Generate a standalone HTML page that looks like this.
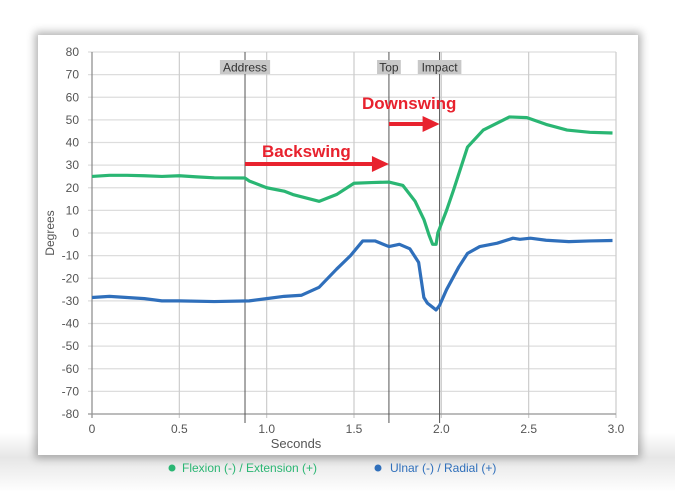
<!DOCTYPE html>
<html><head><meta charset="utf-8"><style>
body{margin:0;width:675px;height:492px;background:#fff;font-family:"Liberation Sans",sans-serif;overflow:hidden}
#bg{position:absolute;left:0;top:0;width:675px;height:492px;background:linear-gradient(#fff 0%,#fff 88%,#e6e6e6 93%,#fff 100%)}
#card{position:absolute;left:38px;top:35px;width:600px;height:420px;background:#fff;box-shadow:0 0 8px 3px rgba(0,0,0,0.3)}
svg{position:absolute;left:0;top:0}
</style></head><body>
<div id="bg"></div>
<div id="card"></div>
<svg id="chart" width="675" height="492"></svg>
<script>
const yTicks=[80,70,60,50,40,30,20,10,0,-10,-20,-30,-40,-50,-60,-70,-80];
const xTicks=[0,0.5,1.0,1.5,2.0,2.5,3.0];
const events=["Address","Top","Impact"];
const eventTimes=[0.876,1.70,1.99];
const flexT=[0,0.1,0.2,0.3,0.4,0.5,0.6,0.7,0.876,0.9,1.0,1.1,1.15,1.2,1.3,1.4,1.5,1.6,1.7,1.78,1.85,1.9,1.93,1.95,1.97,1.98,1.99,2.01,2.03,2.07,2.15,2.24,2.39,2.49,2.6,2.72,2.85,2.98];
const flexV=[25,25.5,25.5,25.3,25,25.3,24.8,24.4,24.3,23,20,18.5,17,16,14,17,22,22.3,22.5,21,14,6,-1,-5,-5,0,2,6,10,19,38,45.5,51.3,51,48,45.5,44.5,44.2];
const ulnT=[0,0.1,0.2,0.3,0.4,0.5,0.7,0.9,1.0,1.1,1.2,1.3,1.4,1.48,1.55,1.62,1.7,1.76,1.82,1.87,1.9,1.92,1.97,1.99,2.03,2.1,2.15,2.22,2.32,2.41,2.45,2.51,2.6,2.73,2.85,2.98];
const ulnV=[-28.5,-28,-28.5,-29,-30,-30,-30.3,-30,-29,-28,-27.5,-24,-16,-10,-3.5,-3.5,-6,-5,-7,-13,-28.5,-31,-34,-32,-25,-15,-9,-6,-4.5,-2.3,-2.8,-2.3,-3.2,-3.8,-3.5,-3.3];
const S="http://www.w3.org/2000/svg",svg=document.getElementById('chart');
const X=t=>92+t*(616-92)/3, Y=v=>233-v*(414-52)/160;
function el(tag,a,txt){const e=document.createElementNS(S,tag);for(const k in a)e.setAttribute(k,a[k]);if(txt!=null)e.textContent=txt;svg.appendChild(e);return e;}
yTicks.forEach(v=>{
 const g=el('line',{x1:88,x2:616,y1:Y(v),y2:Y(v),stroke:'#ddd','stroke-width':1.2});
 
 
 const t=el('text',{x:79,y:Y(v)+4,'text-anchor':'end','font-size':12,fill:'#555'},String(v));
 
 
});
xTicks.forEach(v=>{
 const g=el('line',{x1:X(v),x2:X(v),y1:52,y2:418,stroke:v==0?'#888':'#ccc','stroke-width':1.2});
 
 
 const t=el('text',{x:X(v),y:433,'text-anchor':'middle','font-size':12,fill:'#555'},v.toFixed(1).replace(/^0\.0$/,'0'));
 
 
});
const ax=el('line',{x1:88,x2:616,y1:414,y2:414,stroke:'#999','stroke-width':1.2});


events.forEach((n,i)=>{
 const x=X(eventTimes[i]);
 const l=el('line',{x1:x,x2:x,y1:52,y2:423,stroke:'#555','stroke-width':1});
 
 
 const w=n.length*6.6+4;
 const r=el('rect',{x:x-w/2,y:60,width:w,height:14,fill:'#c8c8c8'});
 
 
 const t=el('text',{x:x,y:71.5,'text-anchor':'middle','font-size':12,fill:'#333'},n);
 
 
});
function line(T,V,c,name){
 const p=el('polyline',{points:T.map((t,i)=>X(t)+','+Y(V[i])).join(' '),fill:'none',stroke:c,'stroke-width':3.2,'stroke-linejoin':'round'});
 
 
}
line(flexT,flexV,'#2ab673','flexion-extension-line');
line(ulnT,ulnV,'#2f6fbb','ulnar-radial-line');
function arrow(x1,x2,y,name){
 const l=el('line',{x1:x1,x2:x2-14,y1:y,y2:y,stroke:'#e8222e','stroke-width':4});
 
 
 const h=el('polygon',{points:`${x2-17},${y-8} ${x2},${y} ${x2-17},${y+8}`,fill:'#e8222e'});
 
 
}
arrow(X(eventTimes[0]),X(eventTimes[1]),164,'backswing-arrow');
arrow(X(eventTimes[1]),X(eventTimes[2]),124,'downswing-arrow');
let t=el('text',{x:262,y:157,'font-size':17,fill:'#e8222e','font-weight':'bold'},'Backswing');


t=el('text',{x:362,y:109,'font-size':17,fill:'#e8222e','font-weight':'bold'},'Downswing');


t=el('text',{x:296,y:448,'text-anchor':'middle','font-size':13,fill:'#555'},'Seconds');


t=el('text',{x:54,y:233,'text-anchor':'middle','font-size':12,fill:'#555',transform:'rotate(-90 54 233)'},'Degrees');


let c=el('circle',{cx:172,cy:468,r:3.5,fill:'#2ab673'});


t=el('text',{x:182,y:472,'font-size':12,fill:'#2ab673'},'Flexion (-) / Extension (+)');


c=el('circle',{cx:378,cy:468,r:3.5,fill:'#2f6fbb'});


t=el('text',{x:390,y:472,'font-size':12,fill:'#2f6fbb'},'Ulnar (-) / Radial (+)');


</script>
</body></html>
